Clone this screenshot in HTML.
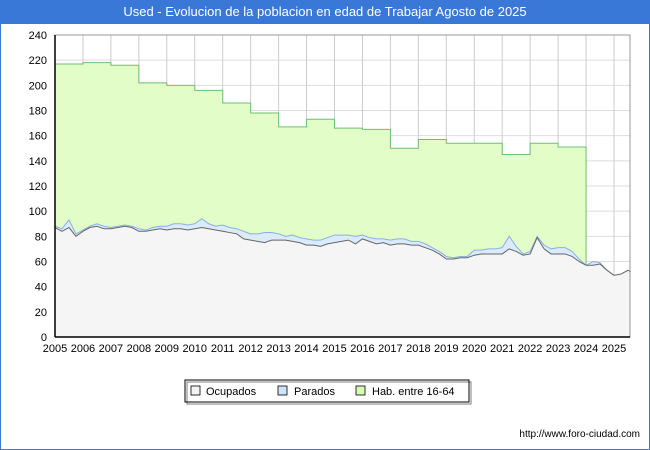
<!DOCTYPE html>
<html><head><meta charset="utf-8"><style>
body{margin:0;background:#fff;font-family:"Liberation Sans","DejaVu Sans",sans-serif;}
#wrap{position:relative;width:650px;height:450px;overflow:hidden;background:#fff;}
</style></head><body>
<div id="wrap">
<svg id="svg" width="650" height="450" xmlns="http://www.w3.org/2000/svg">
<rect x="0" y="0" width="650" height="23" fill="#3a78d8"/>
<text x="325" y="16" text-anchor="middle" fill="#fff" font-size="13">Used - Evolucion de la poblacion en edad de Trabajar Agosto de 2025</text>
<rect x="0" y="23" width="650" height="427" fill="none" stroke="#3a78d8" stroke-width="2"/>
<g id="grid"></g><g id="areas"></g><g id="axes"></g>
<g>
<rect x="185" y="380" width="284" height="22" fill="#fff" stroke="#000" stroke-width="1"/>
<rect x="187" y="382" width="284" height="22" fill="none" stroke="#000" stroke-width="1" opacity="0.5"/>
<rect x="191" y="386" width="9" height="9" fill="#f4f4f4" stroke="#000" stroke-width="0.8"/>
<text x="206" y="395" font-size="11">Ocupados</text>
<rect x="278" y="386" width="9" height="9" fill="#cfe3fb" stroke="#000" stroke-width="0.8"/>
<text x="294" y="395" font-size="11">Parados</text>
<rect x="356" y="386" width="9" height="9" fill="#d9fbb8" stroke="#000" stroke-width="0.8"/>
<text x="372" y="395" font-size="11">Hab. entre 16-64</text>
</g>
<text x="640" y="437" text-anchor="end" font-size="10">http://www.foro-ciudad.com</text>
</svg>
</div>
<script>
const habYears=[2005,2006,2007,2008,2009,2010,2011,2012,2013,2014,2015,2016,2017,2018,2019,2020,2021,2022,2023];
const habValues=[217,218,216,202,200,196,186,178,167,173,166,165,150,157,154,154,145,154,151];
const times=[2005,2005.25,2005.5,2005.75,2006,2006.25,2006.5,2006.75,2007,2007.25,2007.5,2007.75,2008,2008.25,2008.5,2008.75,2009,2009.25,2009.5,2009.75,2010,2010.25,2010.5,2010.75,2011,2011.25,2011.5,2011.75,2012,2012.25,2012.5,2012.75,2013,2013.25,2013.5,2013.75,2014,2014.25,2014.5,2014.75,2015,2015.25,2015.5,2015.75,2016,2016.25,2016.5,2016.75,2017,2017.25,2017.5,2017.75,2018,2018.25,2018.5,2018.75,2019,2019.25,2019.5,2019.75,2020,2020.25,2020.5,2020.75,2021,2021.25,2021.5,2021.75,2022,2022.25,2022.5,2022.75,2023,2023.25,2023.5,2023.75,2024,2024.25,2024.5,2024.75,2025,2025.25,2025.5,2025.6];
const ocupados=[87,84,87,80,84,87,88,86,86,87,88,87,84,84,85,86,85,86,86,85,86,87,86,85,84,83,82,78,77,76,75,77,77,77,76,75,73,73,72,74,75,76,77,74,78,76,74,75,73,74,74,73,73,71,69,66,62,62,63,63,65,66,66,66,66,70,68,65,66,79,70,66,66,66,64,60,57,57,58,53,49,50,53,52];
const totales=[88,86,93,82,85,88,90,88,87,88,89,88,86,85,87,88,88,90,90,89,90,94,90,88,89,87,86,84,82,82,83,83,82,80,81,79,78,77,77,79,81,81,81,80,81,79,78,78,77,78,78,76,76,74,71,68,64,63,64,64,69,69,70,70,71,80,72,66,68,80,73,70,71,71,68,62,57,60,59,53,49,50,53,52];
const yTicks=[0,20,40,60,80,100,120,140,160,180,200,220,240];
const xTicks=[2005,2006,2007,2008,2009,2010,2011,2012,2013,2014,2015,2016,2017,2018,2019,2020,2021,2022,2023,2024,2025];
const NS="http://www.w3.org/2000/svg";
const L=55,R=630,T=35,B=337;
const x=t=>L+(t-2005)*27.95;
const y=v=>B-v*(B-T)/240;
function mk(p,tag,attrs){const e=document.createElementNS(NS,tag);for(const k in attrs)e.setAttribute(k,attrs[k]);p.appendChild(e);return e;}
const grid=document.getElementById('grid'),areas=document.getElementById('areas'),axes=document.getElementById('axes');
mk(grid,'rect',{x:L,y:T,width:R-L,height:B-T,fill:'#fff'});
yTicks.forEach(v=>{const l=mk(grid,'line',{x1:L,x2:R,y1:y(v),y2:y(v),stroke:'#ddd','stroke-width':1});

const t=mk(axes,'text',{x:L-8,y:y(v)+4,'text-anchor':'end','font-size':11});t.textContent=v;
});
xTicks.forEach(v=>{const l=mk(grid,'line',{x1:x(v),x2:x(v),y1:T,y2:B,stroke:'#ccc','stroke-width':1});

const t=mk(axes,'text',{x:x(v),y:B+15,'text-anchor':'middle','font-size':11});t.textContent=v;
});
// hab step area
let hp='M'+x(habYears[0])+','+B;
habYears.forEach((yr,i)=>{hp+=' L'+x(yr)+','+y(habValues[i])+' L'+x(yr+1)+','+y(habValues[i]);});
hp+=' L'+x(2024)+','+B+' Z';
const ha=mk(areas,'path',{d:hp,fill:'#e2fdc8',stroke:'#6cc070','stroke-width':1});

function area(vals,fill,stroke,name){let d='M'+x(times[0])+','+B;times.forEach((t,i)=>{d+=' L'+x(t)+','+y(vals[i]);});d+=' L'+x(times[times.length-1])+','+B+' Z';
const a=mk(areas,'path',{d:d,fill:fill,stroke:'none'});
let ld='';times.forEach((t,i)=>{ld+=(i?' L':'M')+x(t)+','+y(vals[i]);});
const ln=mk(areas,'path',{d:ld,fill:'none',stroke:stroke,'stroke-width':1});}
area(totales,'#dcebfc','#8ab0e8','parados');
area(ocupados,'#f5f5f5','#666','ocupados');
mk(axes,'rect',{x:L,y:T,width:R-L,height:B-T,fill:'none',stroke:'#999','stroke-width':1});
mk(axes,'line',{x1:L,x2:R,y1:B,y2:B,stroke:'#000','stroke-width':1.5});
mk(axes,'line',{x1:L,x2:L,y1:T,y2:B,stroke:'#000','stroke-width':1.5});
</script>
</body></html>
